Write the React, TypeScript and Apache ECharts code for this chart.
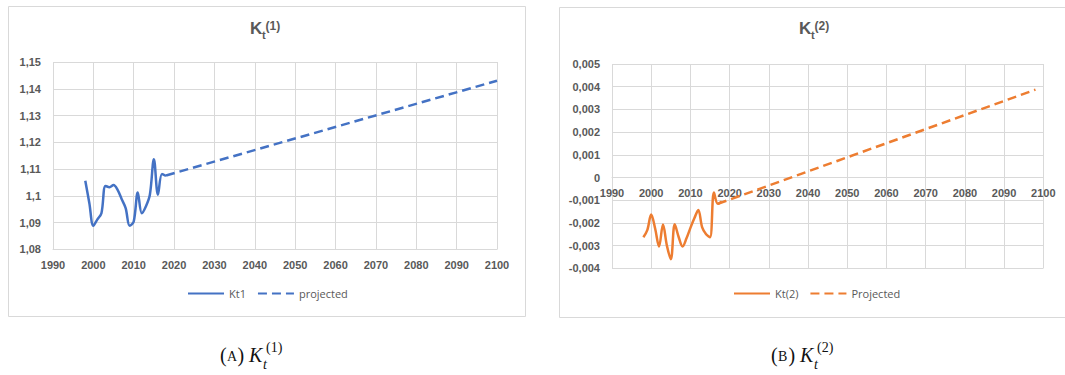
import React, { useEffect, useRef } from "react";
import * as echarts from "echarts";

// Kt(1): observed period and linear projection
const years1 = [1998, 1999, 2000, 2001, 2002, 2003, 2004, 2005, 2006, 2007, 2008, 2009, 2010, 2011, 2012, 2013, 2014, 2015, 2016, 2017, 2018];
const kt1 = [1.1056, 1.0973, 1.0888, 1.0912, 1.0935, 1.1037, 1.1032, 1.104, 1.1022, 1.0988, 1.0954, 1.0888, 1.0904, 1.1012, 1.0935, 1.096, 1.1004, 1.1137, 1.1004, 1.1081, 1.1074];
const projYears1 = [2018, 2100];
const proj1 = [1.1076, 1.143];

// Kt(2): observed period and linear projection
const years2 = [1998, 1999, 2000, 2001, 2002, 2003, 2004, 2005, 2006, 2007, 2008, 2009, 2010, 2011, 2012, 2013, 2014, 2015, 2016, 2017, 2018];
const kt2 = [-0.00263, -0.00232, -0.00163, -0.00225, -0.00304, -0.00207, -0.003, -0.0036, -0.00206, -0.00262, -0.00304, -0.00268, -0.00222, -0.0018, -0.00143, -0.0022, -0.0025, -0.00263, -0.00066, -0.00116, -0.00106];
const projYears2 = [2017, 2098];
const proj2 = [-0.00116, 0.00387];

// axis ranges
const xRange = [1990, 2100];
const xStep = 10;
const yRange1 = [1.08, 1.15];
const yStep1 = 0.01;
const yRange2 = [-0.004, 0.005];
const yStep2 = 0.001;

const legend1 = ["Kt1", "projected"];
const legend2 = ["Kt(2)", "Projected"];

const BLUE = "#4472C4";
const ORANGE = "#ED7D31";
const GREY_TEXT = "#595959";
const GRID_LINE = "#d9d9d9";
const SANS = "'Liberation Sans', Arial, sans-serif";
const SERIF = "'Liberation Serif', 'DejaVu Serif', serif";

const GRID2 = { left: 612, top: 64, width: 431.3, height: 204.3 };

const pairs = (xs: number[], ys: number[]) => xs.map((x, i) => [x, ys[i]]);
const decimalComma = (digits: number) => (v: number) =>
  String(parseFloat(v.toFixed(digits))).replace(".", ",");

const tickLabel = {
  color: GREY_TEXT,
  fontSize: 11,
  fontWeight: "bold" as const,
  fontFamily: SANS,
};

function xAxisFor(gridIndex: number, offset: number) {
  return {
    type: "value" as const,
    gridIndex,
    min: xRange[0],
    max: xRange[1],
    interval: xStep,
    offset,
    axisLine: { show: true, onZero: false, lineStyle: { color: GRID_LINE, width: 1 } },
    axisTick: { show: false },
    axisLabel: { ...tickLabel, margin: 10, formatter: (v: number) => String(v) },
    splitLine: { show: true, lineStyle: { color: GRID_LINE, width: 1 } },
  };
}

function yAxisFor(gridIndex: number, range: number[], step: number, digits: number) {
  return {
    type: "value" as const,
    gridIndex,
    min: range[0],
    max: range[1],
    interval: step,
    axisLine: { show: false },
    axisTick: { show: false },
    axisLabel: { ...tickLabel, margin: 12, formatter: decimalComma(digits) },
    splitLine: { show: true, lineStyle: { color: GRID_LINE, width: 1 } },
  };
}

function lineSeries(name: string, idx: number, data: number[][], color: string, dashed: boolean) {
  return {
    type: "line" as const,
    name,
    xAxisIndex: idx,
    yAxisIndex: idx,
    data,
    smooth: dashed ? false : 0.35,
    symbol: "none",
    showSymbol: false,
    lineStyle: { color, width: 2.5, type: dashed ? [9, 5] : "solid" },
    itemStyle: { color },
  };
}

function legendFor(data: string[], left: number) {
  return {
    data,
    left,
    top: 283,
    orient: "horizontal" as const,
    itemWidth: 36,
    itemHeight: 14,
    itemGap: 11,
    // only the line part of the key is wanted, not a marker
    itemStyle: { color: "rgba(0,0,0,0)", borderWidth: 0, opacity: 0 },
    textStyle: { color: GREY_TEXT, fontSize: 11, fontFamily: "'Open Sans', sans-serif" },
  };
}

function txt(text: string, x: number, y: number, size: number, opts: Record<string, any> = {}) {
  return {
    type: "text" as const,
    x,
    y,
    silent: true,
    style: {
      text,
      fontSize: size,
      fontFamily: opts.family ?? SANS,
      fontWeight: opts.weight ?? "normal",
      fontStyle: opts.style ?? "normal",
      fill: opts.fill ?? GREY_TEXT,
      align: "left",
      verticalAlign: "middle",
    },
  };
}

// Bold "K" with subscript t and superscript index, as chart heading
function heading(x: number, idx: string) {
  return [
    txt("K", x, 28.5, 17, { weight: "bold" }),
    txt("t", x + 12, 35, 11, { weight: "bold" }),
    txt(`(${idx})`, x + 15.5, 25.5, 12, { weight: "bold" }),
  ];
}

// "(A) K_t^(1)" style caption below each panel
function caption(x: number, letter: string, idx: string) {
  const black = "#111";
  return [
    txt("(", x, 355, 20, { family: SERIF, fill: black }),
    txt(letter, x + 7, 356.5, 14, { family: SERIF, fill: black }),
    txt(")", x + 17.5, 355, 20, { family: SERIF, fill: black }),
    txt("K", x + 29, 354.5, 20, { family: SERIF, style: "italic", fill: black }),
    txt("t", x + 43, 364, 14, { family: SERIF, style: "italic", fill: black }),
    txt(`(${idx})`, x + 46, 347.5, 14, { family: SERIF, fill: black }),
  ];
}

export default function App() {
  const ref = useRef<HTMLDivElement>(null);

  useEffect(() => {
    if (!ref.current) return;
    const chart = echarts.init(ref.current, undefined, { renderer: "svg" });
    // right panel: horizontal axis drawn across the zero line
    const zeroShift = -(GRID2.height * (0 - yRange2[0])) / (yRange2[1] - yRange2[0]);
    chart.setOption({
      animation: false,
      backgroundColor: "#ffffff",
      grid: [{ left: 53, top: 62, width: 444, height: 187.3 }, GRID2],
      xAxis: [xAxisFor(0, 0), xAxisFor(1, zeroShift)],
      yAxis: [yAxisFor(0, yRange1, yStep1, 2), yAxisFor(1, yRange2, yStep2, 3)],
      legend: [legendFor(legend1, 182), legendFor(legend2, 728)],
      series: [
        lineSeries(legend1[0], 0, pairs(years1, kt1), BLUE, false),
        lineSeries(legend1[1], 0, pairs(projYears1, proj1), BLUE, true),
        lineSeries(legend2[0], 1, pairs(years2, kt2), ORANGE, false),
        lineSeries(legend2[1], 1, pairs(projYears2, proj2), ORANGE, true),
      ],
      graphic: [
        {
          type: "rect",
          silent: true,
          shape: { x: 8.5, y: 6.5, width: 517, height: 310 },
          style: { fill: "none", stroke: GRID_LINE, lineWidth: 1 },
        },
        {
          type: "rect",
          silent: true,
          shape: { x: 559.5, y: 7.5, width: 512, height: 310 },
          style: { fill: "none", stroke: GRID_LINE, lineWidth: 1 },
        },
        ...heading(250, "1"),
        ...heading(799, "2"),
        ...caption(220, "A", "1"),
        ...caption(771, "B", "2"),
      ],
    });
    return () => chart.dispose();
  }, []);

  return (
    <div
      ref={ref}
      style={{ position: "absolute", left: 0, top: 0, width: 1065, height: 375, background: "#fff" }}
    />
  );
}
